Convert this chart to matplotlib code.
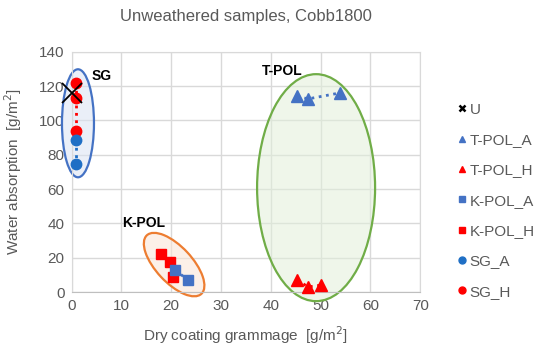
"""Cobb1800 water absorption vs dry coating grammage, unweathered samples."""
import matplotlib
matplotlib.use("Agg")
import matplotlib.pyplot as plt
from matplotlib.colors import to_rgba
from matplotlib.patches import Ellipse
from matplotlib.lines import Line2D
from matplotlib.transforms import ScaledTranslation

plt.rcParams["font.family"] = ["Liberation Sans", "DejaVu Sans"]

# data
u_x, u_y = [0.1], [116]
tpol_a_x, tpol_a_y = [45.3, 47.5, 53.9], [114, 112.5, 116]
tpol_h_x, tpol_h_y = [45.3, 47.5, 50.1], [7, 3, 4]
kpol_a_x, kpol_a_y = [20.8, 23.4], [12.8, 7]
kpol_h_x, kpol_h_y = [18.0, 19.8, 20.4], [22, 17.4, 8.7]
sg_a_x, sg_a_y = [0.9, 0.9], [88.4, 74.4]
sg_h_x, sg_h_y = [0.9, 0.9, 0.9], [122, 113, 94]

BLUE = "#4472c4"
SGBLUE = "#1f6fc5"
RED = "#ff0000"
GREY = "#595959"

fig = plt.figure(figsize=(5.5, 3.54), dpi=100)
ax = fig.add_axes([0.130, 0.175, 0.634, 0.679])

# group ellipses (size in pixels, centred on a data point)
groups = [
    # (cx, cy, w_px, h_px, angle, edge, face, label, lx, ly)
    (1.3, 98.3, 32, 108, 0, "#4472c4", "#dae3f3", "SG", 4.1, 126),
    (20.6, 16.0, 80, 36, -47, "#ed7d31", "#fbe5d6", "K-POL", 10.1, 40),
    (49.1, 60.8, 118, 227, 0, "#70ad47", "#e2efda", "T-POL", 38.3, 129),
]
for cx, cy, w, h, ang, ec, fc, lab, lx, ly in groups:
    e = Ellipse((0, 0), w, h, angle=ang, facecolor=to_rgba(fc, 0.55),
                edgecolor=ec, lw=1.6, zorder=1.5, clip_on=False,
                transform=ScaledTranslation(cx, cy, ax.transData))
    ax.add_patch(e)
    ax.text(lx, ly, lab, fontsize=10, fontweight="bold", color="black",
            va="center", ha="left", zorder=4)

kw = dict(ls=":", lw=2, zorder=3, clip_on=False)
ax.plot(tpol_a_x, tpol_a_y, color=BLUE, marker="^", ms=8, **kw)
ax.plot(tpol_h_x, tpol_h_y, color=RED, marker="^", ms=8, **kw)
ax.plot(kpol_h_x, kpol_h_y, color=RED, marker="s", ms=7, **kw)
ax.plot(kpol_a_x, kpol_a_y, color=BLUE, marker="s", ms=7, **kw)
ax.plot(sg_h_x, sg_h_y, color=RED, marker="o", ms=7.5, **kw)
ax.plot(sg_a_x, sg_a_y, color=SGBLUE, marker="o", ms=7.5, **kw)
ax.plot(u_x, u_y, ls="none", marker="x", ms=14, mew=1.3, color="black",
        zorder=4, clip_on=False)

ax.set_xlim(0, 70)
ax.set_ylim(0, 140)
ax.set_xticks(range(0, 71, 10))
ax.set_yticks(range(0, 141, 20))
ax.grid(True, color="#d9d9d9", lw=1)
ax.set_axisbelow(True)
ax.tick_params(length=0, labelsize=11, labelcolor=GREY, pad=5)
for s in ax.spines.values():
    s.set_color("#d9d9d9")
ax.spines["bottom"].set_color("#bfbfbf")

ax.set_title("Unweathered samples, Cobb1800", fontsize=12, color=GREY, pad=22)
ax.set_xlabel("Dry coating grammage  [g/m$^2$]", fontsize=11, color=GREY,
              labelpad=8)
ax.set_ylabel("Water absorption  [g/m$^2$]", fontsize=11, color=GREY,
              labelpad=11)

handles = [
    Line2D([], [], ls="none", marker="x", ms=5, mew=1.8, color="black"),
    Line2D([], [], ls="none", marker="^", ms=5, color=BLUE),
    Line2D([], [], ls="none", marker="^", ms=5, color=RED),
    Line2D([], [], ls="none", marker="s", ms=5, color=BLUE),
    Line2D([], [], ls="none", marker="s", ms=5, color=RED),
    Line2D([], [], ls="none", marker="o", ms=5, color=SGBLUE),
    Line2D([], [], ls="none", marker="o", ms=5, color=RED),
]
labels = ["U", "T-POL_A", "T-POL_H", "K-POL_A", "K-POL_H", "SG_A", "SG_H"]
leg = fig.legend(handles, labels, loc="upper left", bbox_to_anchor=(0.818, 0.732),
                 frameon=False, fontsize=11, labelspacing=1.07, handlelength=0.6,
                 handletextpad=0.2, borderpad=0)
for t in leg.get_texts():
    t.set_color(GREY)

fig.savefig("out.png", dpi=100)
